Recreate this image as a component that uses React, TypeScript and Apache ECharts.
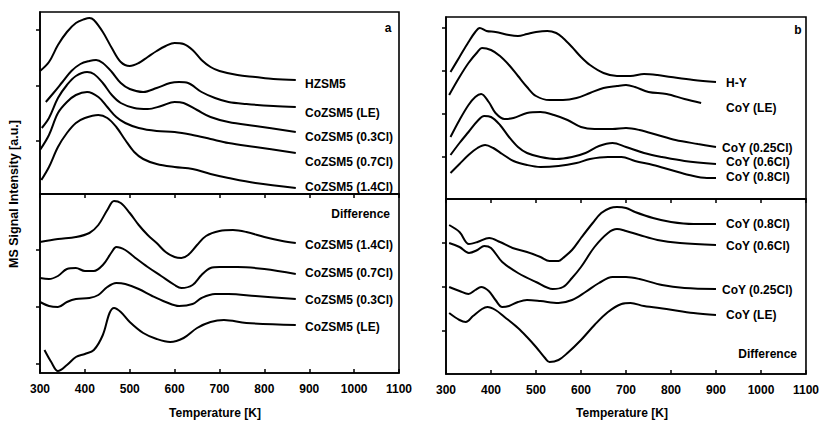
import React, { useEffect, useRef } from "react";
import * as echarts from "echarts";

// Temperature axis ticks
const tempTicks = [300, 400, 500, 600, 700, 800, 900, 1000, 1100];

// Panel a (top): TPD profiles  [T (K), signal a.u.]
const hzsm5: number[][] = [[300,123],[320,132],[340,149],[360,162],[380,171],[400,175],[410,176],[420,174],[440,162],[460,146],[480,132],[500,128],[520,131],[540,137],[560,143],[580,148],[600,151],[620,150],[640,144],[660,134],[680,127],[700,123],[740,119],[780,117],[820,115],[870,114]];
const coLE: number[][] = [[313,92],[330,101],[350,112],[370,123],[390,130],[410,133],[425,134],[440,131],[460,122],[480,111],[500,105],[530,102],[560,106],[590,111],[610,112],[630,111],[660,102],[690,96],[720,92],[760,90],[820,88],[870,87]];
const co03: number[][] = [[304,66],[320,76],[340,96],[360,109],[380,118],[405,122],[420,120],[440,111],[460,99],[480,91],[510,86],[540,85],[570,88],[600,92],[620,91],[650,84],[680,77],[720,72],[780,68],[870,62]];
const co07: number[][] = [[300,44],[320,59],[340,81],[360,92],[380,99],[405,102],[430,97],[450,87],[470,77],[490,71],[520,66],[560,63],[600,62],[640,59],[680,55],[720,51],[780,47],[870,41]];
const co14: number[][] = [[303,14],[320,27],[340,47],[360,61],[380,71],[400,76],[430,79],[450,76],[470,67],[490,54],[510,42],[530,35],[560,30],[600,27],[640,25],[680,20],[720,16],[780,11],[870,6]];

// Panel a (bottom): difference profiles
const d14: number[][] = [[300,131],[340,134],[380,136],[410,140],[430,148],[450,163],[465,172],[480,170],[500,160],[520,148],[540,138],[560,130],[580,121],[600,116],[615,115],[630,118],[650,128],[670,137],[700,142],[730,143],[760,141],[800,136],[840,132],[870,130]];
const d07: number[][] = [[300,95],[320,94],[340,97],[360,104],[380,105],[400,102],[420,102],[440,108],[460,121],[470,126],[490,123],[510,116],[540,106],[570,97],[600,88],[615,85],[640,88],[660,98],[680,105],[700,106],[740,106],[800,104],[870,99]];
const d03: number[][] = [[300,71],[320,67],[340,66],[360,71],[380,74],[410,75],[430,78],[450,86],[470,90],[490,89],[520,84],[550,77],[580,71],[610,67],[640,69],[660,75],[690,79],[720,79],[780,77],[870,74]];
const dLE: number[][] = [[310,23],[325,11],[340,2],[360,8],[380,16],[400,19],[420,23],[440,38],[455,60],[465,65],[480,61],[500,51],[530,40],[560,34],[590,31],[620,35],[650,45],[680,51],[710,53],[760,50],[870,48]];

// Panel b (top): TPD profiles
const hy: number[][] = [[310,127],[330,142],[350,157],[365,167],[375,171],[390,168],[410,167],[440,164],[460,163],[480,165],[500,167],[525,168],[545,166],[560,161],[580,152],[600,142],[620,134],[650,126],[680,123],[710,123],[740,125],[770,124],[800,122],[850,119],[900,117]];
const coyLE: number[][] = [[307,104],[330,122],[350,136],[370,147],[380,151],[400,149],[420,143],[440,134],[460,123],[480,112],[500,103],[530,99],[560,99],[590,101],[620,106],[650,111],[680,113],[700,114],[720,112],[750,107],[790,105],[830,100],[867,96]];
const coy025: number[][] = [[310,62],[330,79],[350,94],[365,102],[378,105],[395,97],[410,86],[430,80],[450,81],[480,86],[510,87],[540,84],[570,79],[600,72],[630,70],[670,70],[700,71],[730,69],[770,64],[810,59],[860,55],[900,52]];
const coy06: number[][] = [[310,44],[330,56],[350,67],[370,78],[385,83],[400,82],[420,74],[440,62],[460,52],[480,46],[510,42],[545,40],[580,42],[610,46],[640,53],[670,56],[700,52],[740,46],[780,42],[830,38],[900,35]];
const coy08: number[][] = [[310,26],[330,35],[350,44],[370,51],[387,54],[405,51],[425,45],[450,38],[480,34],[510,32],[550,33],[590,36],[620,40],[660,42],[690,42],[720,38],[760,34],[800,29],[840,24],[880,21],[900,21]];

// Panel b (bottom): difference profiles
const dy08: number[][] = [[307,149],[330,142],[351,130],[370,132],[396,136],[420,132],[448,126],[480,122],[510,117],[530,113],[550,113],[560,116],[580,124],[600,136],[626,151],[645,161],[665,166],[680,167],[700,166],[720,162],[760,156],[800,152],[850,150],[900,150]];
const dy06: number[][] = [[307,131],[330,127],[351,121],[370,124],[385,128],[400,126],[425,112],[460,101],[500,92],[537,85],[560,87],[580,96],[600,107],[630,127],[660,141],[680,145],[700,143],[730,139],[770,134],[820,131],[900,129]];
const dy025: number[][] = [[307,87],[330,83],[350,80],[365,84],[378,87],[395,83],[410,74],[425,67],[440,68],[460,72],[480,74],[510,73],[550,71],[580,74],[610,82],[640,91],[670,97],[700,97],[730,95],[780,89],[830,86],[900,85]];
const dyLE: number[][] = [[307,61],[330,54],[344,52],[360,58],[380,65],[392,67],[410,64],[430,57],[460,46],[480,37],[500,27],[520,16],[530,12],[550,14],[570,21],[600,34],[630,49],[660,62],[690,70],[710,71],[740,68],[790,65],[850,61],[900,59]];

// Text
const labelsA = ["HZSM5", "CoZSM5 (LE)", "CoZSM5 (0.3Cl)", "CoZSM5 (0.7Cl)", "CoZSM5 (1.4Cl)"];
const labelsADiff = ["CoZSM5 (1.4Cl)", "CoZSM5 (0.7Cl)", "CoZSM5 (0.3Cl)", "CoZSM5 (LE)"];
const labelsB = ["H-Y", "CoY (LE)", "CoY (0.25Cl)", "CoY (0.6Cl)", "CoY (0.8Cl)"];
const labelsBDiff = ["CoY (0.8Cl)", "CoY (0.6Cl)", "CoY (0.25Cl)", "CoY (LE)"];
const yTitle = "MS Signal Intensity [a.u.]";
const xTitle = "Temperature [K]";

const FONT = '"Liberation Sans", Arial, sans-serif';

export default function App() {
  const ref = useRef<HTMLDivElement>(null);
  useEffect(() => {
    document.body.style.margin = "0";
    if (!ref.current) return;
    const chart = echarts.init(ref.current, null, { renderer: "svg" });

    const grids = [
      { left: 40, top: 12, width: 359, height: 182 },
      { left: 40, top: 194, width: 359, height: 179 },
      { left: 446, top: 17, width: 360, height: 182 },
      { left: 446, top: 199, width: 360, height: 175 },
    ];
    const yMax = [182, 179, 182, 175];
    const yTicks = [[53, 108, 164], [9, 66, 123], [42, 85, 128, 171], [43, 87, 131]];
    const isBottom = [false, true, false, true];

    const xAxes = grids.map((_, i) => ({
      type: "value",
      gridIndex: i,
      min: tempTicks[0],
      max: tempTicks[tempTicks.length - 1],
      interval: 100,
      position: isBottom[i] ? "bottom" : "top",
      axisLine: { show: true, lineStyle: { color: "#000", width: 1.6 } },
      axisTick: { show: true, inside: true, length: 4, lineStyle: { color: "#000", width: 1.5 } },
      axisLabel: {
        show: isBottom[i],
        color: "#000",
        fontFamily: FONT,
        fontWeight: "bold",
        fontSize: 12,
        margin: 10,
        formatter: (v: number) => String(v),
      },
      splitLine: { show: false },
    }));
    const yAxes = grids.map((_, i) => ({
      type: "value",
      gridIndex: i,
      min: 0,
      max: yMax[i],
      axisLine: { show: true, lineStyle: { color: "#000", width: 1.6 } },
      axisTick: {
        show: true,
        inside: false,
        length: 4,
        customValues: yTicks[i],
        lineStyle: { color: "#000", width: 1.5 },
      },
      axisLabel: { show: false },
      splitLine: { show: false },
    }));

    const groups: number[][][][] = [
      [hzsm5, coLE, co03, co07, co14],
      [d14, d07, d03, dLE],
      [hy, coyLE, coy025, coy06, coy08],
      [dy08, dy06, dy025, dyLE],
    ];
    const names = [labelsA, labelsADiff, labelsB, labelsBDiff];
    const series: any[] = [];
    groups.forEach((g, gi) => {
      g.forEach((d, si) => {
        series.push({
          type: "line",
          name: names[gi][si] + " " + gi,
          xAxisIndex: gi,
          yAxisIndex: gi,
          data: d,
          showSymbol: false,
          symbol: "none",
          smooth: 0.35,
          lineStyle: { color: "#000", width: 2 },
          silent: true,
        });
      });
    });

    const txt = (text: string, x: number, y: number, align = "left", size = 12, extra: any = {}) => ({
      type: "text",
      x,
      y,
      ...extra,
      style: {
        text,
        fill: "#000",
        fontFamily: FONT,
        fontWeight: "bold",
        fontSize: size,
        align,
        textAlign: align,
        verticalAlign: "middle",
        textVerticalAlign: "middle",
      },
    });

    const posA = [84, 113, 137, 162, 187];
    const posAD = [245, 273, 300, 327];
    const posB = [83, 108, 148, 162, 177];
    const posBD = [224, 246, 290, 315];

    const graphic: any[] = [];
    labelsA.forEach((l, i) => graphic.push(txt(l, 305, posA[i])));
    labelsADiff.forEach((l, i) => graphic.push(txt(l, 305, posAD[i])));
    labelsB.forEach((l, i) => graphic.push(txt(l, i === 2 ? 722 : 726, posB[i])));
    labelsBDiff.forEach((l, i) => graphic.push(txt(l, i === 2 ? 722 : 726, posBD[i])));
    graphic.push(txt("Difference", 390, 214, "right"));
    graphic.push(txt("Difference", 797, 354, "right"));
    graphic.push(txt("a", 388, 28, "center", 12));
    graphic.push(txt("b", 798, 30, "center", 12));
    graphic.push(txt(xTitle, 215, 413, "center"));
    graphic.push(txt(xTitle, 622, 413, "center"));
    graphic.push(txt(yTitle, 14, 194, "center", 12.5, { rotation: Math.PI / 2 }));

    chart.setOption({
      animation: false,
      backgroundColor: "#fff",
      grid: grids.map((g) => ({ ...g, show: true, borderColor: "#000", borderWidth: 1.6, backgroundColor: "transparent" })),
      xAxis: xAxes,
      yAxis: yAxes,
      series,
      graphic,
    });
    return () => chart.dispose();
  }, []);
  return <div ref={ref} style={{ width: 822, height: 423 }} />;
}
